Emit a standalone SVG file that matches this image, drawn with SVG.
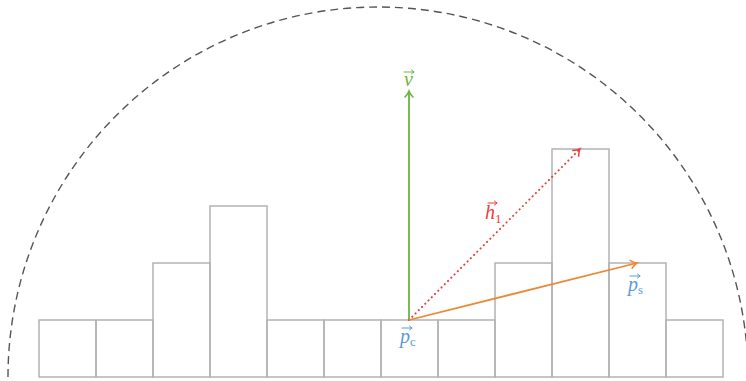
<svg xmlns="http://www.w3.org/2000/svg" width="746" height="381" viewBox="0 0 746 381">
<style>
.bar{fill:none;stroke:#b3b3b3;stroke-width:1.5}
.lbl{font-family:"Liberation Serif",serif;font-style:italic;font-size:20px}
.sub{font-family:"Liberation Serif",serif;font-style:normal;font-size:13px}
.acc{fill:none;stroke-width:1;stroke-linecap:round;stroke-linejoin:round}
</style>
<defs>
<marker id="ag" markerWidth="12" markerHeight="12" refX="9" refY="6" orient="auto" markerUnits="userSpaceOnUse"><path d="M2.5,1.5 Q6,5 9,6 Q6,7 2.5,10.5" fill="none" stroke="#6db33f" stroke-width="1.5"/></marker>
<marker id="ar" markerWidth="12" markerHeight="12" refX="9" refY="6" orient="auto" markerUnits="userSpaceOnUse"><path d="M2.5,1.5 Q6,5 9,6 Q6,7 2.5,10.5" fill="none" stroke="#ee3b3b" stroke-width="1.5"/></marker>
<marker id="ao" markerWidth="12" markerHeight="12" refX="9" refY="6" orient="auto" markerUnits="userSpaceOnUse"><path d="M2.5,1.5 Q6,5 9,6 Q6,7 2.5,10.5" fill="none" stroke="#ee8833" stroke-width="1.5"/></marker>
</defs>
<rect width="746" height="381" fill="#fff"/>
<path d="M8,377 A370,370 0 0 1 748,377" fill="none" stroke="#555" stroke-width="1.4" stroke-dasharray="8,5"/>
<g id="bars">
<rect class="bar" x="39" y="320" width="57" height="57"/>
<rect class="bar" x="96" y="320" width="57" height="57"/>
<rect class="bar" x="153" y="263" width="57" height="114"/>
<rect class="bar" x="210" y="206" width="57" height="171"/>
<rect class="bar" x="267" y="320" width="57" height="57"/>
<rect class="bar" x="324" y="320" width="57" height="57"/>
<rect class="bar" x="381" y="320" width="57" height="57"/>
<rect class="bar" x="438" y="320" width="57" height="57"/>
<rect class="bar" x="495" y="263" width="57" height="114"/>
<rect class="bar" x="552" y="149" width="57" height="228"/>
<rect class="bar" x="609" y="263" width="57" height="114"/>
<rect class="bar" x="666" y="320" width="57" height="57"/>
</g>
<g id="connectors">
<line x1="409" y1="320" x2="409" y2="91" stroke="#6db33f" stroke-width="1.8" marker-end="url(#ag)"/>
<line x1="409" y1="320" x2="580" y2="149" stroke="#ee3b3b" stroke-width="2" stroke-dasharray="0.1,4.5" stroke-linecap="round" marker-end="url(#ar)"/>
<line x1="409" y1="320" x2="637" y2="263" stroke="#ee8833" stroke-width="1.8" marker-end="url(#ao)"/>
</g>
<g id="label-v"><path class="acc" stroke="#6db33f" d="M404,72 H414 M411.5,70 L414,72 L411.5,74"/><text class="lbl" x="404" y="86" fill="#6db33f">v</text></g>
<g id="label-h1"><path class="acc" stroke="#ee3b3b" d="M488,203 H497 M494.5,201 L497,203 L494.5,205"/><text class="lbl" x="485" y="219" fill="#ee3b3b">h<tspan class="sub" dy="4">1</tspan></text></g>
<g id="label-pc"><path class="acc" stroke="#5b9bd5" d="M402,328 H412 M409.5,326 L412,328 L409.5,330"/><text class="lbl" x="400" y="343" fill="#5b9bd5">p<tspan class="sub" dy="3">c</tspan></text></g>
<g id="label-ps"><path class="acc" stroke="#5b9bd5" d="M630,276 H640 M637.5,274 L640,276 L637.5,278"/><text class="lbl" x="628" y="291" fill="#5b9bd5">p<tspan class="sub" dy="3">s</tspan></text></g>
</svg>
